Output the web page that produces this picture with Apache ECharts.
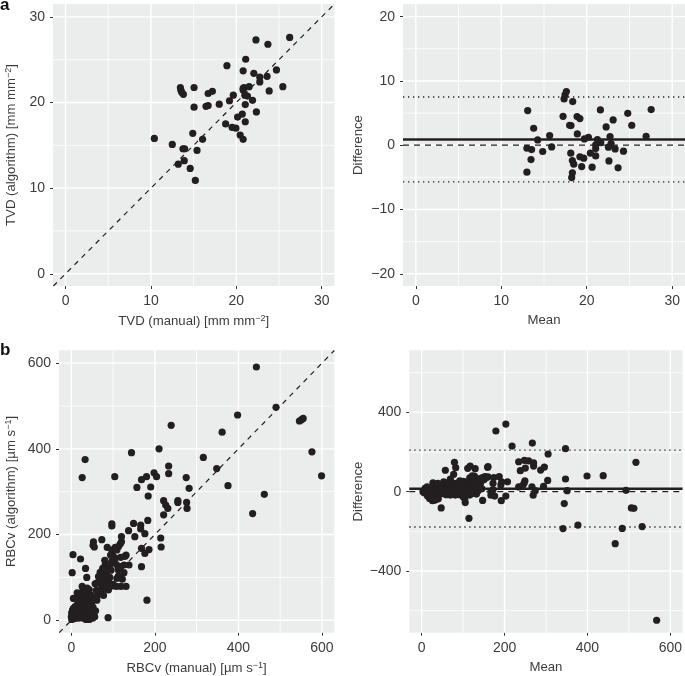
<!DOCTYPE html>
<html><head><meta charset="utf-8">
<style>html,body{margin:0;padding:0;background:#fff}#c{width:685px;height:676px}</style>
<script src="https://cdn.jsdelivr.net/npm/echarts@6/dist/echarts.min.js"></script>
</head><body><div id="c"></div>
<script>
const tvdCompare = [[10.4,15.8],[12.5,15.1],[13.2,12.8],[13.75,14.6],[13.95,14.6],[13.9,13.2],[14.6,12.3],[15.2,10.9],[15.4,14.4],[14.9,16.4],[16.05,15.7],[13.45,21.75],[13.5,21.45],[13.6,21.2],[13.8,20.95],[15.05,21.75],[15.05,19.45],[16.45,19.55],[16.7,19.65],[16.7,21.05],[17.2,21.3],[18.0,19.8],[18.75,17.5],[18.9,24.3],[19.2,20.2],[19.5,17.1],[19.65,20.85],[19.95,17.0],[20.15,18.3],[20.45,16.2],[20.7,18.65],[20.8,15.7],[20.8,23.7],[20.8,21.65],[20.8,21.45],[20.9,21.75],[21.05,17.75],[21.05,19.75],[21.0,20.85],[21.1,25.05],[21.3,20.75],[21.5,21.85],[21.9,20.25],[22.05,23.4],[22.3,27.3],[22.35,18.9],[22.75,22.95],[22.75,22.4],[23.6,23.05],[23.7,26.8],[23.85,21.35],[24.7,23.8],[25.45,21.85],[26.25,27.6]];
const tvdDiff = [[13.09,5.39],[13.0,-0.47],[13.55,-0.67],[13.48,-2.23],[13.0,-4.2],[13.79,2.64],[14.26,0.83],[14.85,-0.98],[15.66,1.5],[15.9,-0.26],[17.23,4.5],[17.35,7.2],[17.46,7.82],[17.62,8.34],[18.0,3.1],[18.16,3.06],[18.36,6.79],[18.13,-1.24],[18.32,-2.38],[18.48,-2.95],[18.32,-4.3],[18.24,-5.03],[18.9,1.76],[18.87,4.46],[19.2,4.15],[19.2,-1.81],[19.65,-2.02],[19.41,-3.32],[19.73,0.98],[20.2,1.24],[20.43,-1.24],[20.63,-3.42],[21.05,-1.66],[21.05,-0.52],[21.05,0.05],[21.25,0.88],[21.6,5.49],[21.64,0.41],[22.27,2.85],[22.6,-2.44],[22.54,-0.31],[22.73,1.35],[22.85,0.26],[23.09,3.94],[23.32,-0.57],[23.67,-3.52],[24.3,-0.93],[24.8,4.97],[25.27,3.11],[26.95,1.4],[27.54,5.54]];
const rbcCompare = [[4,153],[22,143],[2,111],[34,121],[37,100],[26,79],[5,51],[26,333],[33,375],[104,335],[144,391],[157,310],[168,328],[180,335],[184,290],[190,311],[198,344],[204,335],[210,400],[233,360],[233,342],[221,279],[226,269],[231,261],[221,246],[239,455],[255,279],[255,275],[275,333],[276,275],[277,261],[282,308],[316,380],[348,354],[361,439],[375,314],[398,479],[434,249],[443,591],[462,294],[490,497],[546,465],[551,468],[555,471],[576,393],[599,337],[181,47],[88,6],
[97,225],[97,220],[149,226],[137,209],[166,222],[166,213],[152,195],[176,202],[183,233],[214,192],[215,171],[168,168],[176,156],[186,165],[168,125],[53,183],[52,175],[55,171],[73,188],[86,170],[97,164],[105,170],[109,164],[94,152],[97,137],[120,183],[117,178],[113,172],[120,195],[128,149],[118,147],[131,152],[118,125],[126,129],[138,129],[126,111],[122,96],[131,79],[119,79],[108,79],[98,80],[109,98],[113,103],[95,117],[81,129],[75,121],[69,112],[65,102],[57,85],[66,90],[77,94],[89,94],[73,79],[89,71],[77,58],[43,71],[38,75],[61,55],[61,47],
[17,59],[29,59],[38,55],[21,47],[33,47],[41,44],[9,32],[21,36],[33,36],[45,32],[3,24],[14,24],[27,24],[38,23],[1,18],[11,16],[25,15],[37,15],[53,15],[3,9],[17,5],[35,2],[43,2],[1,2],[13,9],[51,5],[30,40],[34,52],[28,30],[40,38],[24,40],[18,28],[32,18],[46,22],[10,6],[6,22],[36,8],
[61,87],[70,92],[80,88],[84,80],[92,85],[100,84],[75,70],[68,62],[60,70],[72,100],[80,110],[85,105],[92,100],[88,120],[92,130],[80,140],[100,150],[105,145],[108,130],[112,118],
[14,64],[20,62],[26,66],[30,62],[35,64],[42,60],[48,58],[16,50],[22,55],[28,52],[38,47],[44,50],[50,46],[25,44],[36,42],[15,38],[26,35],[38,30],[48,38],[52,30],[20,30],[30,25],[42,28],[12,20],[20,18],[28,14],[34,12],[44,12],[54,10],[6,12],[8,4],[16,12],[22,8],[28,5],[48,9],[56,8],[58,22],[2,14],[0,8],[5,28]];
const rbcDiff = [[179,306],[203,341],[218,230],[267,245],[347,217],[305,190],[517,148],[234,151],[238,106],[248,158],[258,155],[270,146],[270,129],[250,119],[287,109],[296,124],[304,57],[347,64],[399,79],[438,81],[249,55],[247,42],[234,24],[243,29],[266,25],[274,5],[269,-18],[294,27],[351,5],[344,-60],[341,-186],[377,-168],[484,-185],[532,-176],[467,-262],[493,7],[506,-82],[512,-84],[567,-648],[47,-82],[114,-134],[147,-44],[192,-45],[203,-22],[207,50],[187,76],[193,50],[172,42],[174,71],[159,123],[160,126],[153,76],[143,67],[129,116],[117,129],[111,118],[82,121],[79,148],[77,87],[57,108],[69,64],[127,79],[131,59],[167,0],[167,-18],[176,-22],[191,34],
[3,0],[8,17],[13,25],[10,-8],[14,-22],[19,-34],[26,-45],[31,-42],[35,-25],[21,0],[29,8],[27,45],[39,42],[41,8],[47,25],[53,50],[57,29],[55,-12],[63,17],[69,-17],[75,25],[81,-17],[85,34],[89,8],[95,45],[100,-25],[105,-55],[105,50],[111,8],[116,-17],[121,42],[127,17],[132,-12],[139,25],[140,34],[35,0],[23,-17],[95,-8],[83,-5],[71,25],[51,12],[79,42],[111,39],[123,62],
[12,5],[16,-12],[20,-25],[24,-30],[28,-35],[32,-30],[36,-12],[40,-18],[44,-5],[48,5],[52,-8],[58,5],[60,-15],[64,35],[68,5],[72,-10],[76,10],[80,30],[84,-12],[88,20],[92,-15],[96,30],[98,10],[102,-12],[104,-35],[106,22],[108,35],[112,25],[114,50],[118,30],[120,8],[124,45],[126,-8],[128,30],[130,70],[134,35],[136,5],[138,60],[142,45],[145,15],[148,72],[150,60],[155,70],[160,75],[92,55],[100,52],[88,45],[72,45],[62,45],[44,30],[33,25],[24,15],[18,8],[6,-5],[28,-15],[40,-35],[34,-40],[116,70],[122,80],[172,10]];

const tvdTicks = [0,10,20,30];
const tvdMinor = [5,15,25];
const tvdDiffTicks = [-20,-10,0,10,20];
const tvdDiffMinor = [-15,-5,5,15];
const rbcTicks = [0,200,400,600];
const rbcMinor = [100,300,500];
const rbcDiffTicks = [-400,0,400];
const rbcDiffMinor = [-600,-200,200,600];

const tvdDiffLevels = {mean:0.9, upper:7.5, lower:-5.7};
const rbcDiffLevels = {mean:15, upper:210, lower:-178};

const INK = '#231f20', TXT = '#3c3c3c', FONT = '"Liberation Sans", Arial, sans-serif';

const panels = [
 {g:{left:53,top:4,width:281.5,height:282}, x:[-1.47,31.5], y:[-1.43,31.5], xt:tvdTicks, xm:tvdMinor, yt:tvdTicks, ym:tvdMinor,
  xn:'TVD (manual) [mm mm{s|−2}]', yn:'TVD (algorithm) [mm mm{s|−2}]', ygap:34, data:tvdCompare, identity:true},
 {g:{left:403,top:4,width:282,height:282}, x:[-1.5,31.5], y:[-21.9,21.97], xt:tvdTicks, xm:tvdMinor, yt:tvdDiffTicks, ym:tvdDiffMinor,
  xn:'Mean', yn:'Difference', ygap:38, data:tvdDiff, levels:tvdDiffLevels},
 {g:{left:59,top:350.3,width:275.3,height:282.4}, x:[-29.5,629.5], y:[-29,630], xt:rbcTicks, xm:rbcMinor, yt:rbcTicks, ym:rbcMinor,
  xn:'RBCv (manual) [µm s{s|−1}]', yn:'RBCv (algorithm) [µm s{s|−1}]', ygap:40, data:rbcCompare, identity:true},
 {g:{left:409.3,top:350.3,width:275.7,height:282.4}, x:[-30,629.5], y:[-710.7,712.7], xt:rbcTicks, xm:rbcMinor, yt:rbcDiffTicks, ym:rbcDiffMinor,
  xn:'Mean', yn:'Difference', ygap:44, data:rbcDiff, levels:rbcDiffLevels}
];

const rich = {s:{fontSize:9, fontFamily:FONT, color:TXT, verticalAlign:'top', lineHeight:15}};
const axisBase = (vals, range) => ({
  type:'value', min:range[0], max:range[1], scale:true,
  axisLine:{show:true, onZero:false, lineStyle:{color:'rgba(0,0,0,0)',width:0}}, splitLine:{show:false}, minorSplitLine:{show:false},
  axisTick:{show:true, inside:false, length:3, customValues:vals, lineStyle:{color:'#333',width:1}},
  axisLabel:{customValues:vals, color:TXT, fontSize:14, fontFamily:FONT, margin:8,
    formatter:v=>String(v).replace('-','\u2212')},
  nameLocation:'middle',
  nameTextStyle:{color:TXT, fontSize:13.2, fontFamily:FONT, rich}
});

const option = {animation:false, backgroundColor:'#fff', grid:[], xAxis:[], yAxis:[], series:[],
  graphic:[
    {type:'text',left:0,top:-3,style:{text:'a',font:'bold 17px '+FONT,fill:'#111'}},
    {type:'text',left:0,top:342,style:{text:'b',font:'bold 17px '+FONT,fill:'#111'}}
  ]};

panels.forEach((p,i)=>{
  option.grid.push(Object.assign({show:true,backgroundColor:'#ebecec',borderWidth:0,containLabel:false},p.g));
  option.xAxis.push(Object.assign(axisBase(p.xt,p.x),{gridIndex:i,name:p.xn,nameGap:28}));
  option.yAxis.push(Object.assign(axisBase(p.yt,p.y),{gridIndex:i,name:p.yn,nameGap:p.ygap}));
  const seg=(data,style,z)=>({type:'line',xAxisIndex:i,yAxisIndex:i,data,symbol:'none',showSymbol:false,silent:true,z,lineStyle:style});
  const white=w=>({color:'#fff',width:w,type:'solid'});
  p.xm.forEach(v=>option.series.push(seg([[v,p.y[0]],[v,p.y[1]]],white(0.8),1)));
  p.ym.forEach(v=>option.series.push(seg([[p.x[0],v],[p.x[1],v]],white(0.8),1)));
  p.xt.forEach(v=>option.series.push(seg([[v,p.y[0]],[v,p.y[1]]],white(1.4),1)));
  p.yt.forEach(v=>option.series.push(seg([[p.x[0],v],[p.x[1],v]],white(1.4),1)));
  option.series.push({type:'scatter',xAxisIndex:i,yAxisIndex:i,data:p.data,symbolSize:7.2,silent:true,z:3,large:false,
    itemStyle:{color:INK,opacity:1}});
  if(p.identity){
    const lo=Math.max(p.x[0],p.y[0]), hi=Math.min(p.x[1],p.y[1]);
    option.series.push(seg([[lo,lo],[hi,hi]],{color:INK,width:1.2,type:[5,5]},4));
  }
  if(p.levels){
    const h=v=>[[p.x[0],v],[p.x[1],v]];
    option.series.push(seg(h(p.levels.mean),{color:INK,width:2.6,type:'solid'},4));
    option.series.push(seg(h(0),{color:INK,width:1.2,type:[6,5]},4));
    option.series.push(seg(h(p.levels.upper),{color:INK,width:1.3,type:[1.3,3.7]},4));
    option.series.push(seg(h(p.levels.lower),{color:INK,width:1.3,type:[1.3,3.7]},4));
  }
});
echarts.init(document.getElementById('c'),null,{renderer:'canvas'}).setOption(option);
</script></body></html>
